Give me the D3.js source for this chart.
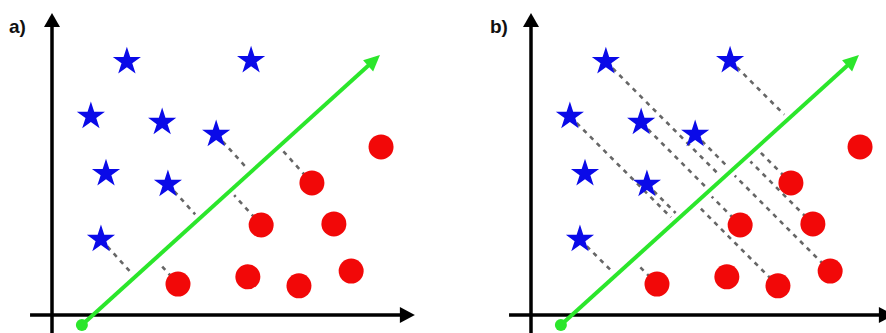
<!DOCTYPE html>
<html>
<head>
<meta charset="utf-8">
<script src="https://cdn.jsdelivr.net/npm/d3@7/dist/d3.min.js"></script>
<style>
  html, body { margin: 0; padding: 0; background: #fff; }
  svg { display: block; }
</style>
</head>
<body>
<svg id="chart" width="886" height="333"></svg>
<script>
// data space: x 0..10, y 0..8 (origin = axis crossing)
const starX = [2.08, 5.53, 1.08, 3.06, 4.56, 1.50, 3.22, 1.36];
const starY = [7.04, 7.07, 5.52, 5.35, 5.02, 3.93, 3.63, 2.10];
const circleX = [9.14, 7.22, 5.81, 7.83, 8.31, 3.50, 5.44, 6.86];
const circleY = [4.67, 3.67, 2.50, 2.53, 1.22, 0.86, 1.06, 0.81];
const greenFrom = [0.83, -0.28];
const greenTo = [9.11, 7.22];
const panelLabels = ["a)", "b)"];
// which points get a dashed projection line, per panel
const projStarsA = [4, 6, 7];
const projCirclesA = [1, 2, 5];
const projStarsB = [0, 1, 2, 3, 4, 6, 7];
const projCirclesB = [1, 2, 3, 4, 5, 7];

(function () {
  const svg = d3.select("#chart");
  const panelShift = 479;

  const panels = [
    { label: panelLabels[0], stars: projStarsA, circles: projCirclesA, dir: null },
    { label: panelLabels[1], stars: projStarsB, circles: projCirclesB, dir: [1, 1] }
  ];

  panels.forEach((p, i) => drawPanel(p, i * panelShift));

  function drawPanel(p, off) {
    const x = d3.scaleLinear().domain([0, 10]).range([52 + off, 412 + off]);
    const y = d3.scaleLinear().domain([0, 8]).range([315, 27]);
    const g = svg.append("g");

    // axes
    const ax0 = x(-0.61), ax1 = x(10.08), ay = y(0);
    const yx = x(0), y0 = y(-0.6), y1 = y(8.39);
    g.append("line").attr("x1", ax0).attr("y1", ay).attr("x2", ax1 - 12).attr("y2", ay)
      .attr("stroke", "#000").attr("stroke-width", 3.5);
    g.append("polygon").attr("points", head(ax0, ay, ax1, ay, 15, 16)).attr("fill", "#000");
    g.append("line").attr("x1", yx).attr("y1", y0).attr("x2", yx).attr("y2", y1 + 10)
      .attr("stroke", "#000").attr("stroke-width", 3.5);
    g.append("polygon").attr("points", head(yx, y0, yx, y1, 14, 16)).attr("fill", "#000");

    g.append("text")
      .attr("x", 9 + off + (off ? 2 : 0))
      .attr("y", 33)
      .style("font-family", "'Liberation Sans', Arial, sans-serif")
      .style("font-weight", "bold")
      .style("font-size", "19px")
      .attr("fill", "#111")
      .text(p.label);

    // green direction
    const gx0 = x(greenFrom[0]), gy0 = y(greenFrom[1]);
    const gx1 = x(greenTo[0]), gy1 = y(greenTo[1]);

    // dashed projection lines
    const segs = [];
    p.stars.forEach(k => segs.push([x(starX[k]), y(starY[k])]));
    p.circles.forEach(k => segs.push([x(circleX[k]), y(circleY[k])]));
    segs.forEach(([px, py]) => {
      const f = foot(px, py, gx0, gy0, gx1, gy1, p.dir);
      const dx = f[0] - px, dy = f[1] - py;
      const L = Math.hypot(dx, dy);
      const e = (L - 6) / L;
      g.append("line")
        .attr("x1", px).attr("y1", py)
        .attr("x2", px + dx * e).attr("y2", py + dy * e)
        .attr("stroke", "#666")
        .attr("stroke-width", 2.6)
        .attr("stroke-dasharray", "4.5,5");
    });

    const ang = Math.atan2(gy1 - gy0, gx1 - gx0);
    g.append("line")
      .attr("x1", gx0).attr("y1", gy0)
      .attr("x2", gx1 - 10 * Math.cos(ang)).attr("y2", gy1 - 10 * Math.sin(ang))
      .attr("stroke", "#2be62b").attr("stroke-width", 4);
    g.append("polygon").attr("points", head(gx0, gy0, gx1, gy1, 16, 15)).attr("fill", "#2be62b");
    g.append("circle").attr("cx", gx0).attr("cy", gy0).attr("r", 6).attr("fill", "#2be62b");

    // markers
    const star = d3.symbol().type(d3.symbolStar).size(14.8 * 14.8 / 0.8908130915292852);
    g.selectAll("path.star")
      .data(d3.range(starX.length))
      .enter().append("path")
      .attr("class", "star")
      .attr("d", star)
      .attr("transform", k => `translate(${x(starX[k])},${y(starY[k])})`)
      .attr("fill", "#0a0ae8");

    g.selectAll("circle.dot")
      .data(d3.range(circleX.length))
      .enter().append("circle")
      .attr("class", "dot")
      .attr("cx", k => x(circleX[k]))
      .attr("cy", k => y(circleY[k]))
      .attr("r", 12.5)
      .attr("fill", "#f20808");
  }

  // triangle arrow head at (x1,y1), pointing away from (x0,y0)
  function head(x0, y0, x1, y1, len, w) {
    const a = Math.atan2(y1 - y0, x1 - x0);
    const bx = x1 - len * Math.cos(a), by = y1 - len * Math.sin(a);
    const nx = -Math.sin(a) * w / 2, ny = Math.cos(a) * w / 2;
    return [[x1, y1], [bx + nx, by + ny], [bx - nx, by - ny]].map(q => q.join(",")).join(" ");
  }

  // where the line from (px,py) meets the green line; perpendicular if dir is null
  function foot(px, py, ax, ay, bx, by, dir) {
    const ux = bx - ax, uy = by - ay;
    if (!dir) {
      const t = ((px - ax) * ux + (py - ay) * uy) / (ux * ux + uy * uy);
      return [ax + t * ux, ay + t * uy];
    }
    const [dx, dy] = dir;
    const den = ux * dy - uy * dx;
    const t = ((px - ax) * dy - (py - ay) * dx) / den;
    return [ax + t * ux, ay + t * uy];
  }
})();
</script>
</body>
</html>
